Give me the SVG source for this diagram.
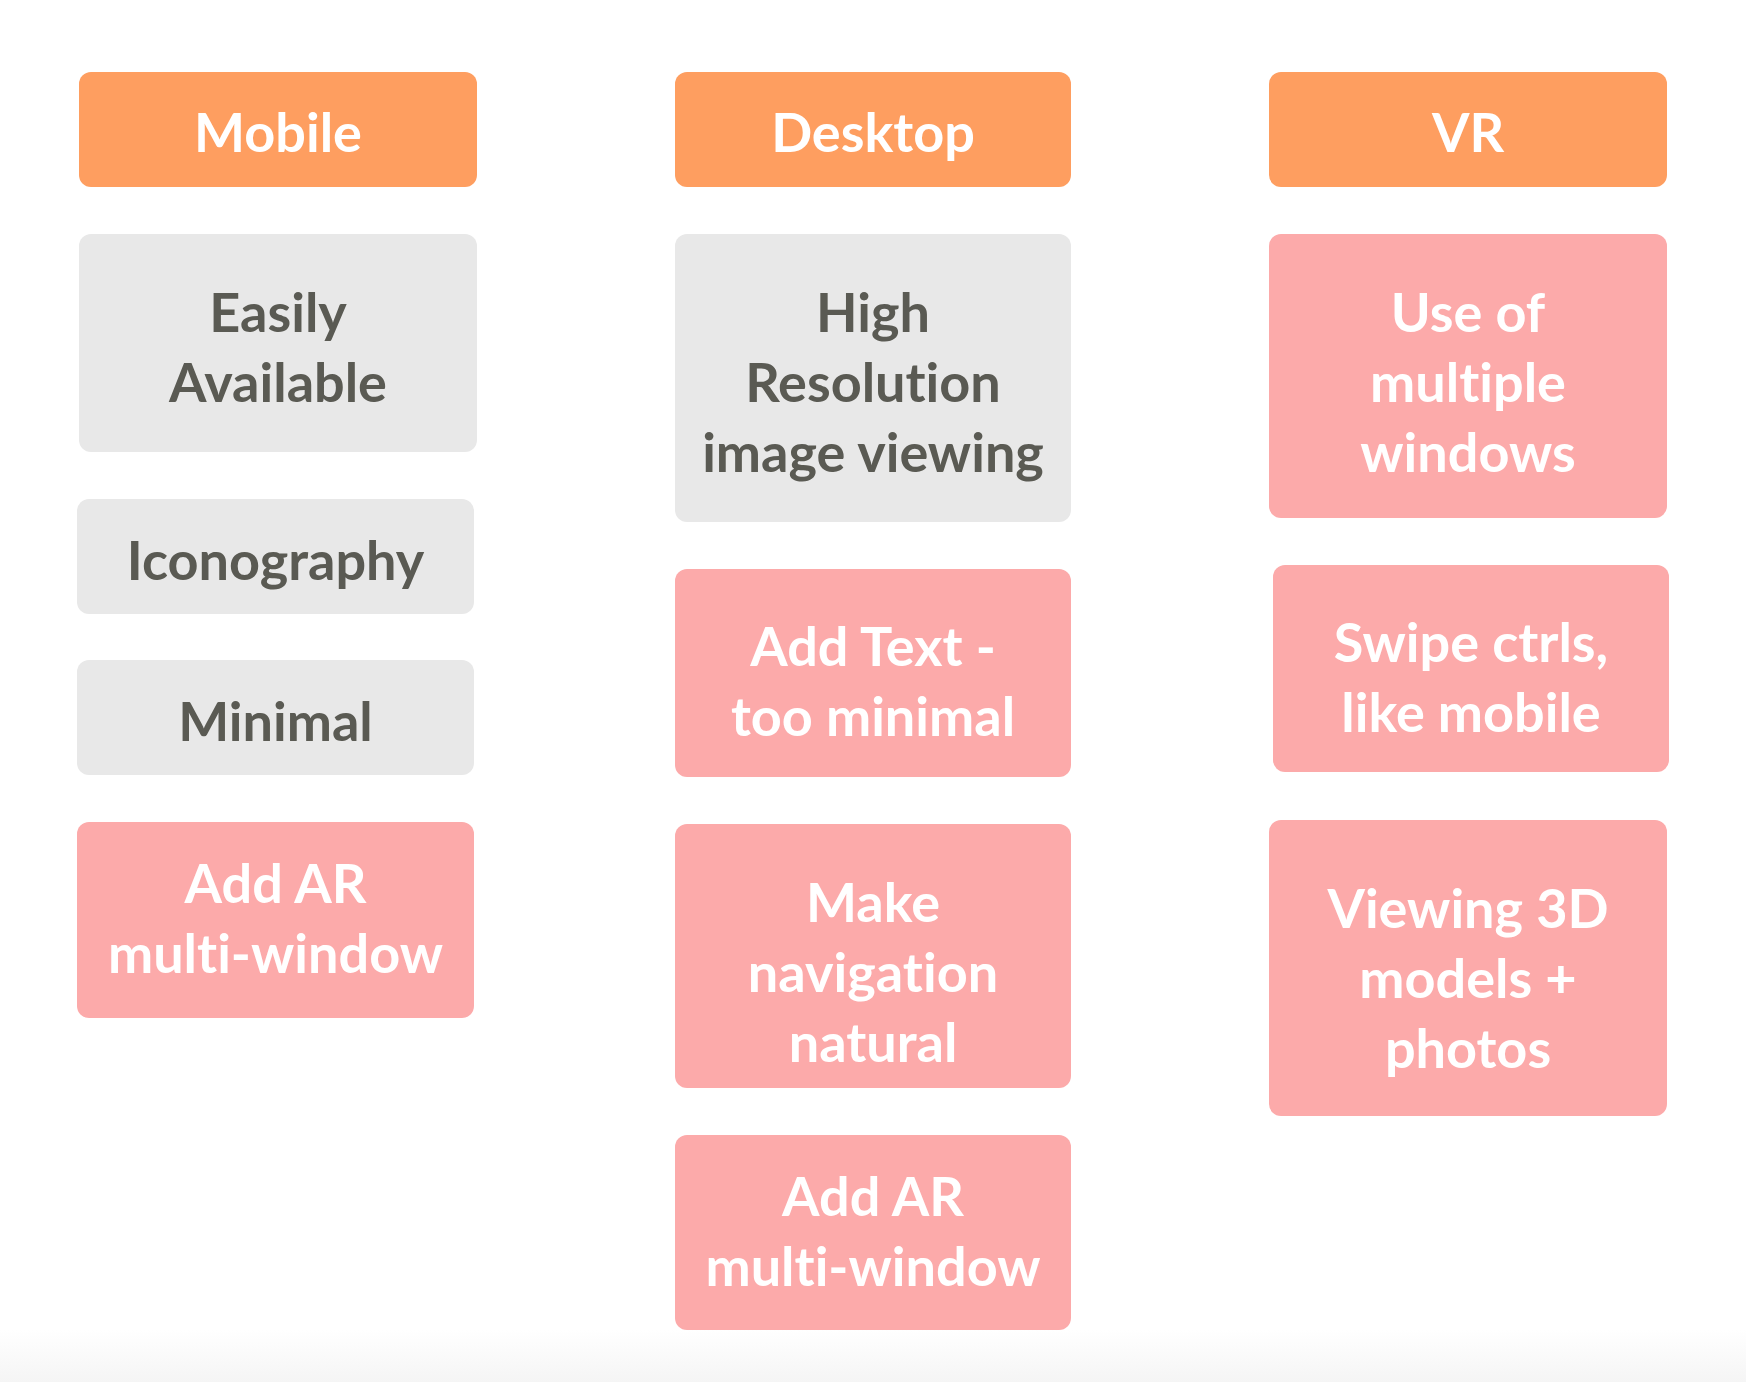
<svg xmlns="http://www.w3.org/2000/svg" width="1746" height="1382" viewBox="0 0 1746 1382">
  <defs>
    <linearGradient id="floor" x1="0" y1="0" x2="0" y2="1">
      <stop offset="0" stop-color="#ffffff"/>
      <stop offset="1" stop-color="#f5f5f5"/>
    </linearGradient>
  </defs>
  <style>
    .head { fill: #fe9e60; }
    .grey { fill: #e8e8e8; }
    .pink { fill: #fcaaaa; }
    text { font-family: "Lato", "Liberation Sans", sans-serif; font-weight: 700; font-size: 54px; text-anchor: middle; font-variant-ligatures: none; font-feature-settings: "liga" 0, "clig" 0; }
    .light { fill: #ffffff; }
    .dark { fill: #5a5a53; }
  </style>
  <rect width="1746" height="1382" fill="#ffffff"/>
  <rect x="0" y="1330" width="1746" height="52" fill="url(#floor)"/>

  <!-- Mobile column -->
  <g id="mobile">
    <rect class="head" x="79" y="72" width="398" height="115" rx="12"/>
    <text class="light" x="278" y="152">Mobile</text>
  </g>
  <g id="easily-available">
    <rect class="grey" x="79" y="234" width="398" height="218" rx="12"/>
    <text class="dark" x="278" y="332">Easily</text>
    <text class="dark" x="278" y="402">Available</text>
  </g>
  <g id="iconography">
    <rect class="grey" x="77" y="499" width="397" height="115" rx="12"/>
    <text class="dark" x="275.5" y="580">Iconography</text>
  </g>
  <g id="minimal">
    <rect class="grey" x="77" y="660" width="397" height="115" rx="12"/>
    <text class="dark" x="275.5" y="741">Minimal</text>
  </g>
  <g id="mobile-add-ar">
    <rect class="pink" x="77" y="822" width="397" height="196" rx="12"/>
    <text class="light" x="275.5" y="903">Add AR</text>
    <text class="light" x="275.5" y="973">multi-window</text>
  </g>

  <!-- Desktop column -->
  <g id="desktop">
    <rect class="head" x="675" y="72" width="396" height="115" rx="12"/>
    <text class="light" x="873" y="152">Desktop</text>
  </g>
  <g id="high-resolution">
    <rect class="grey" x="675" y="234" width="396" height="288" rx="12"/>
    <text class="dark" x="873" y="332">High</text>
    <text class="dark" x="873" y="402">Resolution</text>
    <text class="dark" x="873" y="472">image viewing</text>
  </g>
  <g id="add-text">
    <rect class="pink" x="675" y="569" width="396" height="208" rx="12"/>
    <text class="light" x="873" y="666">Add Text -</text>
    <text class="light" x="873" y="736">too minimal</text>
  </g>
  <g id="make-navigation">
    <rect class="pink" x="675" y="824" width="396" height="264" rx="12"/>
    <text class="light" x="873" y="922">Make</text>
    <text class="light" x="873" y="992">navigation</text>
    <text class="light" x="873" y="1062">natural</text>
  </g>
  <g id="desktop-add-ar">
    <rect class="pink" x="675" y="1135" width="396" height="195" rx="12"/>
    <text class="light" x="873" y="1216">Add AR</text>
    <text class="light" x="873" y="1286">multi-window</text>
  </g>

  <!-- VR column -->
  <g id="vr">
    <rect class="head" x="1269" y="72" width="398" height="115" rx="12"/>
    <text class="light" x="1468" y="152">VR</text>
  </g>
  <g id="multiple-windows">
    <rect class="pink" x="1269" y="234" width="398" height="284" rx="12"/>
    <text class="light" x="1468" y="332">Use of</text>
    <text class="light" x="1468" y="402">multiple</text>
    <text class="light" x="1468" y="472">windows</text>
  </g>
  <g id="swipe-controls">
    <rect class="pink" x="1273" y="565" width="396" height="207" rx="12"/>
    <text class="light" x="1471" y="662">Swipe ctrls,</text>
    <text class="light" x="1471" y="732">like mobile</text>
  </g>
  <g id="viewing-3d">
    <rect class="pink" x="1269" y="820" width="398" height="296" rx="12"/>
    <text class="light" x="1468" y="928">Viewing 3D</text>
    <text class="light" x="1468" y="998">models +</text>
    <text class="light" x="1468" y="1068">photos</text>
  </g>

  <!-- no connectors in this board -->
  <g id="connectors"/>
</svg>
